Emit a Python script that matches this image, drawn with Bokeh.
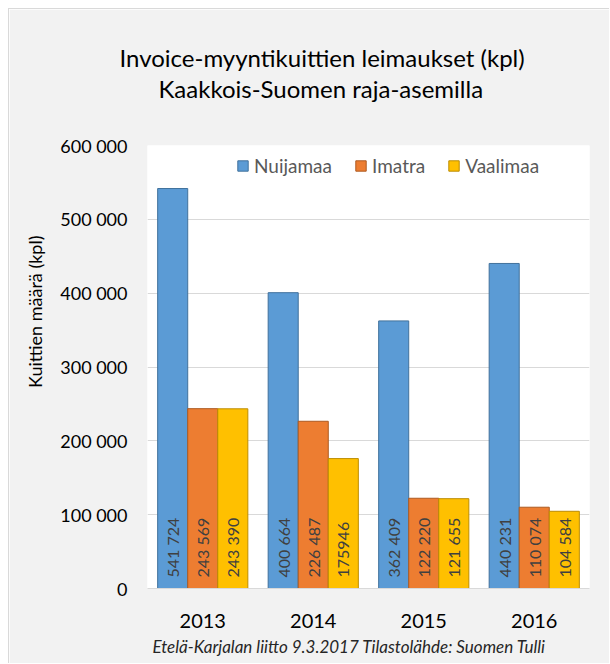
import math
from bokeh.plotting import figure
from bokeh.models import ColumnDataSource, FactorRange, Range1d, Title, FixedTicker
from bokeh.transform import dodge
from bokeh.core.properties import value
from bokeh.embed import file_html
from bokeh.resources import INLINE

years = ["2013", "2014", "2015", "2016"]
nuijamaa = [541724, 400664, 362409, 440231]
imatra = [243569, 226487, 122220, 110074]
vaalimaa = [243390, 175946, 121655, 104584]
nuijamaa_lbl = ["541 724", "400 664", "362 409", "440 231"]
imatra_lbl = ["243 569", "226 487", "122 220", "110 074"]
vaalimaa_lbl = ["243 390", "175946", "121 655", "104 584"]
y_ticks = [0, 100000, 200000, 300000, 400000, 500000, 600000]
y_tick_labels = ["0", "100 000", "200 000", "300 000", "400 000", "500 000", "600 000"]

title1 = "Invoice-myyntikuittien leimaukset (kpl)"
title2 = "Kaakkois-Suomen raja-asemilla"
y_title = "Kuittien määrä (kpl)"
footer = "Etelä-Karjalan liitto 9.3.2017 Tilastolähde: Suomen Tulli"

FONT = "Lato"

src = ColumnDataSource(dict(
    year=years, Nuijamaa=nuijamaa, Imatra=imatra, Vaalimaa=vaalimaa,
    nl=nuijamaa_lbl, il=imatra_lbl, vl=vaalimaa_lbl,
))

p = figure(
    width=601, height=655,
    x_range=FactorRange(*years, range_padding=0),
    y_range=Range1d(0, 600000),
    output_backend="svg", toolbar_location=None,
    min_border_left=138, min_border_right=21, min_border_top=136, min_border_bottom=73,
    title=title1,
)
p.styles = {"margin-left": "8px", "margin-top": "8px",
            "border-left": "1px solid #D9D9D9", "border-top": "1px solid #D9D9D9"}
p.border_fill_color = "#F2F2F2"
p.background_fill_color = "#FFFFFF"
p.outline_line_color = None

series = [
    ("Nuijamaa", "nl", "#5B9BD5", "#41719C", -0.272),
    ("Imatra", "il", "#ED7D31", "#AE5A21", 0.0),
    ("Vaalimaa", "vl", "#FFC000", "#BC8C00", 0.272),
]
bw = 0.272
for name, lbl, fill, line, off in series:
    p.vbar(x=dodge("year", off, range=p.x_range), top=name, width=bw, source=src,
           fill_color=fill, line_color=line, line_width=1, legend_label=name)
for name, lbl, fill, line, off in series:
    p.text(x=dodge("year", off, range=p.x_range), y=0, text=lbl, source=src,
           angle=math.pi / 2, text_align="left", text_baseline="middle",
           y_offset=-11, text_font=value(FONT), text_font_size="16px",
           text_color="#404040")

# axes
p.yaxis.ticker = FixedTicker(ticks=y_ticks)
p.yaxis.major_label_overrides = {t: l for t, l in zip(y_ticks, y_tick_labels)}
p.yaxis.axis_line_color = None
p.yaxis.major_tick_line_color = None
p.yaxis.minor_tick_line_color = None
p.yaxis.major_label_text_font = FONT
p.yaxis.major_label_text_font_size = "18px"
p.yaxis.major_label_text_color = "#000000"
p.yaxis.major_label_standoff = 14

p.xaxis.axis_line_color = "#D9D9D9"
p.xaxis.major_tick_line_color = None
p.xaxis.minor_tick_line_color = None
p.xaxis.major_label_text_font = FONT
p.xaxis.major_label_text_font_size = "20px"
p.xaxis.major_label_text_color = "#000000"
p.xaxis.major_label_standoff = 19

p.xgrid.grid_line_color = None
p.ygrid.grid_line_color = "#D9D9D9"
p.ygrid.ticker = FixedTicker(ticks=y_ticks)

# legend
lg = p.legend[0]
lg.orientation = "horizontal"
lg.location = (89, 411)
lg.background_fill_alpha = 0
lg.border_line_alpha = 0
lg.padding = 0
lg.margin = 0
lg.spacing = 22
lg.label_standoff = 5
lg.glyph_width = 13
lg.glyph_height = 13
lg.label_height = 16
lg.label_text_font = FONT
lg.label_text_font_size = "19px"
lg.label_text_color = "#595959"

# titles: p.title is the outermost line; added titles: first added is closest
p.title.align = "left"
p.title.offset = -28
p.title.standoff = 0
p.title.text_font = FONT
p.title.text_font_size = "24px"
p.title.text_font_style = "normal"
p.title.text_color = "#000000"
# spacer between the second title line and the plot area
p.add_layout(Title(text=" ", standoff=40, text_font_size="1px"), "above")
p.add_layout(Title(text=title2, align="left", offset=11, standoff=0,
                   text_font=FONT, text_font_size="24px", text_font_style="normal",
                   text_color="#000000"), "above")

p.add_layout(Title(text=y_title, align="right", offset=90, standoff=24,
                   text_font=FONT, text_font_size="18px", text_font_style="normal",
                   text_color="#000000"), "left")

p.add_layout(Title(text=footer, align="left", offset=5, standoff=11, vertical_align="top",
                   text_font=FONT, text_font_size="17px", text_font_style="italic",
                   text_color="#262626"), "below")

open("out.html", "w").write(file_html(p, INLINE))
